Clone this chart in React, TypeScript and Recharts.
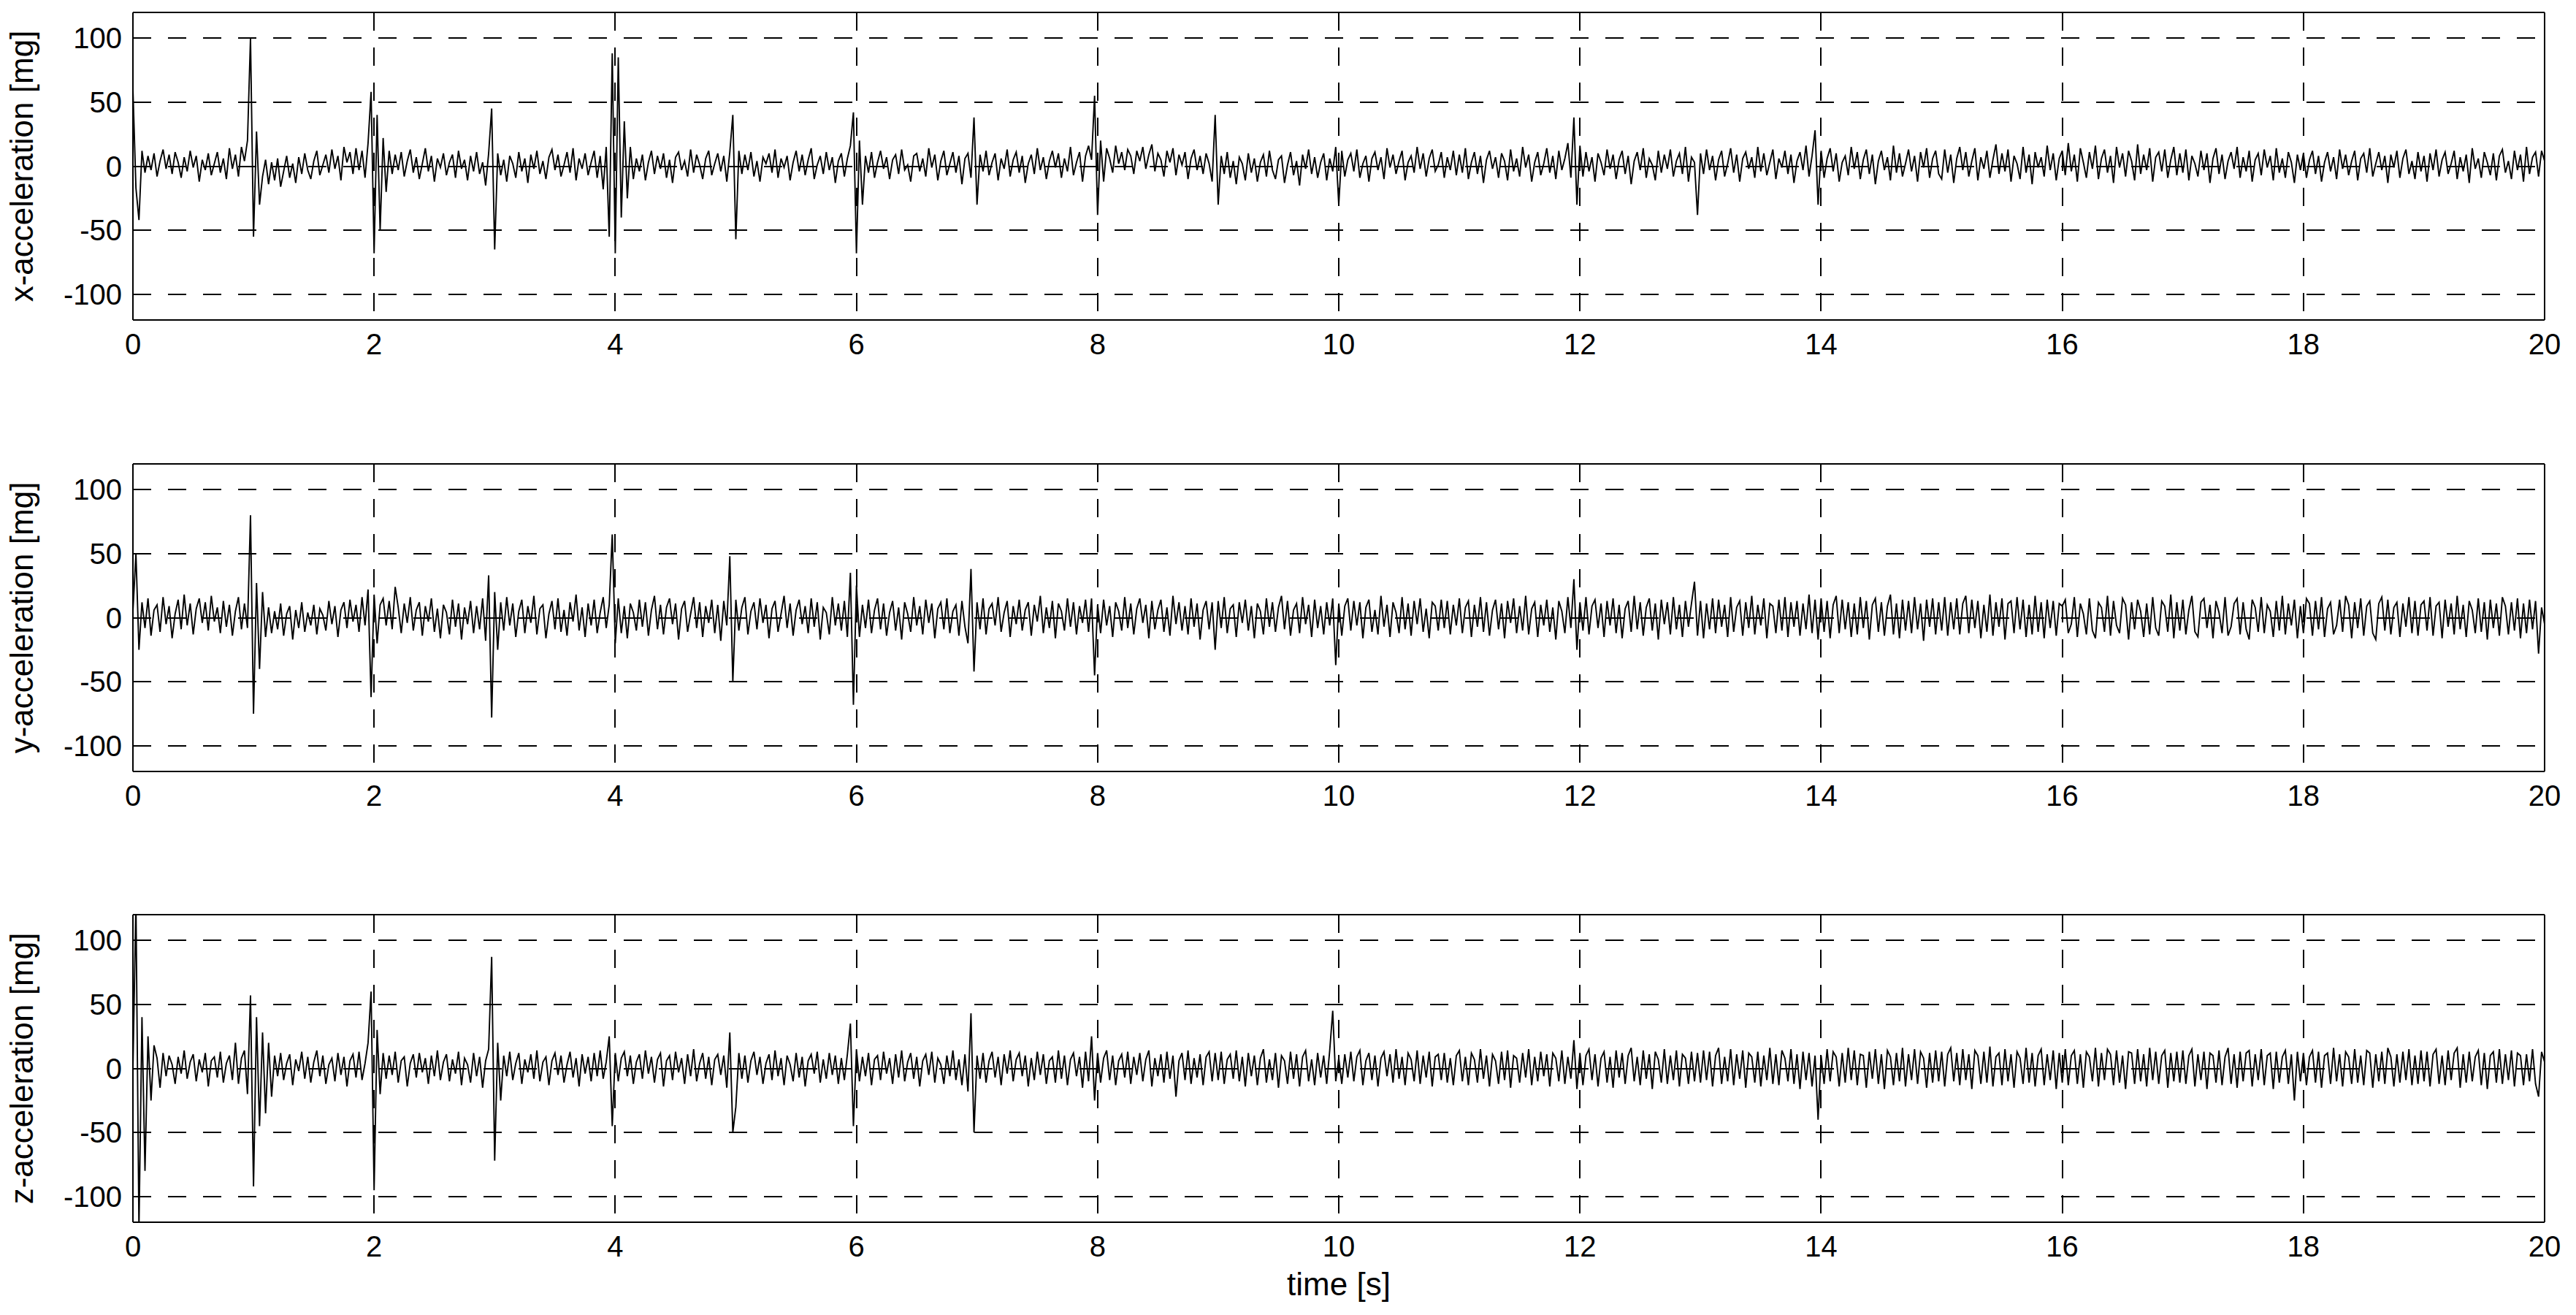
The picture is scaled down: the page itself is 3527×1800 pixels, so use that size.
import { LineChart, Line, XAxis, YAxis, CartesianGrid, ReferenceLine } from 'recharts'

const fontFamily = '"Liberation Sans", Arial, Helvetica, sans-serif'

const duration = 20
const xTicks = [0, 2, 4, 6, 8, 10, 12, 14, 16, 18, 20]
const yTicks = [-100, -50, 0, 50, 100]

// 40 samples per second, one line per second
const xAccel = [
  60, -17, -42, 12, -5, 8, -3, 10, -8, 4, 13, -2, 9, -6, 11, 3, -9, 7, -4, 12, -1, 8, -12, 5, -3, 10, -7, 2, 11, -5, 6, -10, 14, -2, 9, -8, 15, 4, 20, 100,
  -55, 27, -30, -8, 5, -14, 3, -11, 6, -16, -4, 8, -9, 2, -13, 7, -6, 10, -3, -10, 4, 12, -7, 1, 9, -5, 13, -2, 8, -11, 15, 3, 11, -6, 14, -3, 12, -9, 18, 58,
  -68, 40, -50, 22, -20, 12, -6, 9, -3, 11, -8, 4, 13, -5, 7, -10, 2, 14, -4, 8, -12, 6, -1, 10, -7, 3, 9, -9, 12, -2, 5, -11, 8, -4, 11, -6, 3, -15, 10, 45,
  -65, 10, -7, 5, -12, 8, 2, -9, 11, -4, 6, -13, 9, -2, 12, -6, 4, -10, 7, 13, -3, 9, -8, 1, 11, -5, 14, -11, 6, -2, 10, -7, 3, 12, -9, 8, -18, 15, -55, 88,
  -68, 85, -40, 35, -25, 15, -10, 6, -4, 9, -11, 3, 12, -6, 8, -2, 10, -9, 5, -13, 7, 11, -3, 4, -8, 13, -5, 9, 1, -10, 6, 12, -7, 2, 10, -4, 8, -12, 11, 40,
  -57, 12, -6, 9, -3, 11, -8, 4, -12, 7, 2, 10, -5, 13, -9, 6, -1, 8, -11, 3, 12, -4, 9, -7, 5, 14, -10, 1, 8, -6, 11, -3, 7, -13, 4, 10, -8, 6, 16, 42,
  -68, 20, -30, 8, -5, 11, -9, 3, 12, -2, 7, -10, 5, 9, -6, 13, -3, 1, -12, 8, 10, -4, 6, -8, 14, -1, 9, -11, 4, 12, -7, 2, 11, -5, 8, -14, 6, 10, -9, 38,
  -30, 9, -4, 12, -7, 3, 10, -11, 6, -2, 13, -8, 5, 11, -5, 8, -13, 2, 9, -6, 14, -3, 7, -10, 4, 12, -1, 10, -9, 6, -4, 15, -7, 3, 11, -12, 8, 16, 5, 55,
  -38, 20, -12, 14, 6, -5, 16, 2, 11, -3, 13, 8, -6, 12, 4, 15, -2, 9, 17, -4, 10, 5, -8, 12, 3, 14, -7, 9, 1, 11, -10, 6, 13, -3, 8, -6, 10, 2, -12, 40,
  -30, 8, -6, 11, -9, 4, -14, 7, 2, -11, 10, -5, 6, -12, 3, 9, -8, 12, -3, -10, 5, 8, -13, 1, 11, -7, 4, -15, 9, -2, 13, -6, 7, -9, 3, 10, -11, 6, -4, 15,
  -30, 12, -8, 5, 10, -4, 13, -9, 2, 8, -12, 6, 11, -3, 7, -10, 14, -1, 9, -6, 4, 12, -11, 3, 8, -5, 15, -2, 10, -8, 6, 13, -4, 1, 11, -9, 7, -3, 12, -7,
  9, -5, 14, -10, 3, 11, -6, 8, -13, 5, 12, -2, 7, -9, 10, 4, -11, 13, -4, 6, -8, 15, -1, 9, -12, 3, 11, -7, 2, 14, -5, 8, -10, 12, -3, 6, 18, -9, 38, -30,
  16, -8, 11, -4, 7, -12, 10, 3, -7, 13, -2, 9, -10, 5, 12, -6, 8, -14, 4, 11, -3, 14, -9, 6, 1, -11, 12, -5, 9, -2, 13, -8, 4, 10, -6, 15, -12, 7, 3, -38,
  10, -6, 13, -3, 8, -11, 5, 12, -8, 2, 14, -5, 9, -12, 6, 11, -2, 7, -9, 15, -4, 10, -7, 3, 13, -10, 6, -1, 12, -6, 9, -13, 4, 11, -3, 16, -8, 8, 28, -30,
  12, -9, 6, 14, -4, 10, -12, 3, 8, -7, 15, -2, 11, -10, 5, 13, -6, 9, -14, 4, 12, -3, 7, -11, 16, -5, 10, -8, 2, 13, -4, 8, -12, 11, -1, 14, -9, 6, 12, -6,
  -10, 13, -5, 9, -13, 6, 15, -3, 11, -8, 4, 14, -11, 7, -2, 12, -9, 5, 17, -6, 10, -4, 13, -12, 8, 2, -10, 15, -5, 9, -14, 11, -1, 7, -8, 16, -3, 10, -11, 6,
  12, -7, 18, -4, 9, -12, 14, 3, -9, 11, -2, 16, -10, 6, 13, -5, 8, -13, 15, -1, 10, -8, 12, 4, -11, 17, -6, 9, -3, 14, -12, 7, 11, -4, 13, -9, 5, 15, -7, 10,
  -5, 13, -11, 8, 2, -8, 12, -3, 10, -13, 6, 14, -6, 9, -10, 4, 11, -2, 15, -9, 7, -4, 12, -12, 5, 10, -7, 13, -1, 8, -11, 14, -5, 6, -9, 11, 3, -13, 9, -3,
  10, -9, 5, 12, -6, 8, -12, 3, 11, -4, 7, -10, 13, -2, 9, -7, 4, 12, -11, 6, 10, -5, 14, -8, 2, 11, -3, 8, -13, 9, -1, 12, -9, 6, 13, -6, 4, -10, 11, -4,
  8, -12, 10, -3, 13, -8, 5, 11, -6, 2, 12, -10, 7, -4, 9, -13, 14, -2, 6, -9, 11, 3, -7, 10, -11, 8, 13, -5, 4, -10, 12, -3, 9, -12, 15, -6, 7, 11, -8, 12,
  4,
]

const yAccel = [
  5, 50, -25, 12, -8, 15, -14, 6, 10, -11, 16, -5, 9, -16, 3, 14, -9, 18, -6, 11, -13, 7, 15, -4, 12, -10, 17, -3, 8, -12, 13, -7, 10, -14, 5, 16, -9, 11, -8, 80,
  -75, 27, -40, 20, -15, 8, -12, 5, -9, 11, -14, 3, 9, -17, 6, -8, 12, -11, 4, -6, 10, -13, 7, 2, -10, 13, -5, 9, -15, 6, 12, -8, 14, -3, 10, -11, 16, -6, 22, -62,
  18, -20, 10, 15, -6, 13, -9, 24, 8, -12, 11, -4, 16, -10, 6, 12, -14, 9, -3, 15, -11, 7, -16, 10, 4, -13, 14, -7, 11, -17, 8, -5, 13, -12, 9, -9, 15, -18, 33, -78,
  20, -25, 12, -10, 16, -6, 11, -15, 5, 14, -12, 9, -4, 17, -13, 7, 10, -16, 3, 13, -9, 15, -11, 6, -14, 12, -3, 18, -10, 8, -15, 11, -6, 14, -12, 4, 16, -8, 10, 65,
  -20, 15, -12, 9, -16, 11, 4, -10, 14, -7, 12, -14, 6, 17, -9, 10, -13, 8, 15, -5, 11, -17, 7, 13, -11, 3, 16, -8, 12, -15, 9, -4, 14, -12, 10, -18, 13, -6, 48, -50,
  14, -10, 8, 16, -13, 5, 12, -9, 15, -4, 10, -16, 7, 13, -11, 3, 17, -8, 11, -14, 6, 14, -5, 9, -12, 15, -7, 12, -17, 8, 4, -13, 16, -6, 11, -10, 13, -15, 35, -68,
  25, -15, 10, -8, 14, -12, 6, 15, -9, 11, -14, 4, 13, -10, 8, -17, 12, 3, -11, 16, -6, 9, -13, 14, -4, 11, -16, 7, 12, -9, 15, -12, 5, 10, -14, 13, -7, -20, 38, -42,
  12, -9, 15, -13, 7, 11, -6, 16, -11, 4, 13, -15, 9, -5, 14, -10, 6, 12, -14, 10, -3, 17, -12, 8, -8, 13, -16, 11, 5, -10, 15, -7, 12, -13, 9, -4, 14, -11, 15, -45,
  10, -12, 14, -6, 9, -15, 12, 5, -10, 16, -8, 11, -13, 7, 15, -4, 10, -16, 13, -9, 6, 14, -11, 8, -14, 17, -5, 12, -10, 9, -13, 15, -7, 11, -17, 6, 13, -9, 12, -25,
  13, -8, 16, -12, 7, 10, -15, 12, -4, 14, -10, 9, -16, 11, 5, -13, 15, -7, 12, -11, 8, 17, -9, 13, -14, 6, 11, -12, 16, -5, 10, -15, 14, -8, 9, -13, 12, -6, 15, -37,
  11, -14, 9, 15, -10, 13, -6, 12, -16, 8, 14, -11, 6, -13, 17, -7, 10, -15, 12, 4, -12, 16, -9, 11, -14, 13, -5, 15, -11, 7, -16, 12, 9, -10, 14, -8, 13, -13, 10, -6,
  15, -12, 8, 13, -15, 10, -7, 16, -11, 12, -14, 6, 14, -9, 11, -16, 13, -4, 15, -12, 9, -10, 17, -13, 7, 12, -15, 10, -6, 14, -11, 8, -17, 13, 5, -12, 16, -8, 30, -25,
  12, -10, 16, -13, 9, 14, -8, 11, -15, 13, -6, 15, -12, 10, -16, 7, 13, -11, 17, -9, 12, -14, 8, 15, -10, 11, -17, 14, -5, 12, -13, 16, -9, 10, -15, 13, -7, 11, 28, -14,
  13, -16, 11, -9, 15, -12, 14, -7, 10, -15, 16, -11, 8, 13, -14, 12, -8, 17, -13, 10, -6, 15, -16, 11, 9, -12, 14, -10, 16, -15, 12, -7, 13, -14, 11, -9, 18, -12, 14, -17,
  15, -11, 13, -16, 10, 17, -12, 14, -9, 12, -15, 11, -13, 16, -8, 13, -17, 10, 15, -11, 12, -14, 9, 18, -13, 11, -16, 14, -10, 13, -12, 16, -9, 11, -18, 14, -7, 15, -13, 12,
  -10, 16, -14, 12, -9, 15, -13, 11, 17, -12, 14, -8, 13, -16, 10, -11, 18, -14, 12, -7, 15, -17, 11, 13, -12, 16, -9, 14, -15, 10, -13, 17, -11, 12, -16, 14, -8, 13, -14, 11,
  9, 14, -12, -5, 16, -15, 11, 3, -13, 15, -10, -16, 12, 8, -11, 17, -14, 13, -6, -12, 15, 10, -17, 12, -9, 14, 5, -15, 11, -13, 16, -8, -14, 13, 9, -11, 18, -16, 12, -10,
  14, -13, 6, 17, -11, -15, 12, 15, -8, 10, -16, 13, 4, -12, 16, -14, -7, 11, 15, -13, 12, -9, -17, 14, 8, -11, 16, -12, 10, 5, -15, 13, -10, 17, -13, 11, -6, 14, -16, 9,
  -12, 15, 11, -14, 13, -9, 16, -15, 7, 12, -13, -6, 14, -11, 17, 10, -16, 12, -8, 15, -14, 9, 13, -12, -17, 11, 16, -10, 14, -13, 8, 12, -15, 11, -7, 16, -12, 13, -14, 10,
  13, -10, 16, -14, 9, 12, -16, 14, -7, 11, -13, 17, -9, 10, -15, 13, 6, -12, 15, -11, 12, -17, 14, -8, 11, -14, 16, 9, -13, 12, -10, 15, -16, 11, -12, 14, -9, 13, -28, 8,
  -5,
]

const zAccel = [
  0, 130, -125, 40, -80, 25, -25, 18, 8, -15, 12, -6, 10, 3, -12, 9, -4, 14, -8, 5, 11, -10, 7, -3, 12, -14, 6, 9, -7, 13, -11, 4, 10, -9, 20, -12, 8, 14, -20, 57,
  -92, 40, -45, 28, -35, 20, -22, 10, -6, 12, -9, 4, 11, -13, 7, -2, 13, -8, 9, -11, 5, 14, -6, 10, -12, 3, 8, -10, 12, -5, 9, -14, 6, 11, -7, 13, -9, 4, 20, 60,
  -95, 30, -20, 12, -8, 10, -5, 13, -11, 6, 9, -14, 4, 11, -7, 12, -3, 8, -12, 10, -6, 14, -9, 5, 11, -10, 7, -4, 13, -13, 8, 3, -11, 12, -6, 9, -15, 6, 15, 87,
  -72, 20, -25, 10, -6, 13, -9, 4, 12, -12, 7, -3, 11, -8, 14, -10, 5, 9, -13, 6, 12, -5, 10, -11, 3, 13, -7, 8, -14, 11, -4, 9, -10, 12, -6, 14, -8, 5, 25, -45,
  12, -10, 8, 13, -6, 10, -12, 5, 11, -8, 14, -4, 9, -11, 7, 12, -14, 6, 10, -9, 13, -3, 8, -12, 11, -6, 15, -10, 4, 12, -8, 9, -13, 7, 11, -5, 10, -15, 28, -50,
  -30, 12, -8, 10, -11, 6, 13, -5, 9, -12, 4, 11, -9, 14, -6, 8, -13, 10, 3, -10, 12, -7, 9, -14, 6, 11, -4, 13, -11, 7, -8, 12, -5, 10, -12, 8, -9, 11, 35, -45,
  15, -10, 9, -6, 12, -13, 7, 10, -9, 13, -4, 8, -12, 11, -7, 14, -10, 5, 12, -8, 9, -14, 6, 11, -5, 13, -11, 8, 3, -12, 10, -6, 14, -9, 7, -13, 11, -18, 43, -50,
  10, -8, 12, -11, 6, 13, -7, 9, -13, 11, -4, 14, -10, 7, 12, -6, 10, -14, 8, -9, 13, -5, 11, -12, 6, 9, -11, 14, -8, 10, -13, 7, 12, -6, 9, -15, 13, -10, 25, -25,
  12, -11, 8, 14, -9, 10, -13, 6, 11, -7, 13, -12, 9, -5, 12, -10, 7, 14, -14, 8, -6, 11, -11, 13, -8, 10, -22, 6, 12, -9, 14, -12, 8, -7, 11, -13, 9, 13, -10, 12,
  -9, 13, -12, 7, 11, -8, 14, -10, 9, -14, 12, -6, 10, -13, 8, 15, -11, 7, -9, 12, -15, 10, 6, -12, 13, -8, 11, -14, 9, 14, -10, 7, -13, 12, -7, 10, -12, 14, 45, -10,
  8, -12, 11, -7, 13, -10, 9, 14, -13, 6, 12, -9, 10, -14, 8, 13, -6, 11, -11, 15, -8, 9, -13, 12, 7, -10, 14, -12, 10, -7, 13, -14, 9, 11, -9, 12, -11, 8, -13, 10,
  14, -10, 9, -13, 12, 7, -11, 15, -8, 10, -14, 11, 6, -12, 13, -9, 14, -15, 10, 8, -11, 12, -7, 15, -13, 9, -10, 13, -6, 11, -14, 12, 8, -10, 14, -12, 9, -8, 22, -16,
  12, -13, 10, 15, -9, 11, -14, 8, 13, -11, 9, -15, 14, -7, 12, -12, 10, 16, -10, 9, -13, 14, -8, 11, -16, 13, 7, -11, 15, -12, 10, -9, 14, -14, 11, 8, -12, 13, -10, 12,
  -11, 14, -9, 13, -14, 10, 16, -12, 9, -10, 15, -13, 11, -8, 14, -15, 12, 9, -11, 13, -14, 10, -9, 16, -12, 11, -13, 14, 8, -10, 15, -12, 11, -16, 13, -9, 12, -14, 10, -40,
  10, -12, 15, -10, 13, 9, -14, 12, -11, 16, -9, 14, -13, 11, 10, -15, 13, -8, 15, -12, 11, -16, 14, 9, -13, 12, -10, 16, -14, 11, -9, 15, -12, 13, 8, -15, 12, -11, 14, -10,
  13, -14, 11, 16, -10, 12, -13, 15, -9, 11, -16, 14, 10, -12, 13, -11, 17, -14, 9, 12, -13, 15, -10, 11, -15, 13, 8, -12, 16, -11, 12, -14, 10, 15, -13, 11, -9, 14, -16, 12,
  -11, 15, -13, 10, 14, -12, 11, -15, 13, 9, -10, 16, -14, 12, -9, 15, 11, -13, 14, -11, 10, -16, 13, 12, -12, 15, -10, 11, -14, 16, -9, 13, -12, 10, 14, -15, 12, -10, 13, -11,
  14, -12, 10, 15, -14, 11, -9, 13, -16, 12, 10, -11, 14, -13, 9, 16, -12, 11, -15, 13, -10, 12, 14, -14, 11, -9, 15, -13, 10, 12, -16, 13, -11, 9, 14, -12, 11, -25, 13, -10,
  12, -13, 9, 14, -11, 13, -15, 10, 12, -12, 16, -10, 11, -14, 13, 9, -12, 15, -11, 10, -13, 14, 12, -15, 11, -10, 13, -12, 16, 9, -14, 11, -11, 13, -9, 15, -13, 10, -12, 14,
  -10, 13, -14, 11, 15, -12, 10, -13, 14, -9, 12, 16, -15, 11, -11, 13, -10, 9, 14, -13, 12, -16, 10, 13, -11, 15, -12, 11, -9, 14, -14, 12, 10, -13, 11, -10, 15, -12, -22, 13,
  5,
]

const panels = [
  { label: 'x-acceleration [mg]', values: xAccel, top: 17 },
  { label: 'y-acceleration [mg]', values: yAccel, top: 635 },
  { label: 'z-acceleration [mg]', values: zAccel, top: 1252 },
]

const toRows = (values: number[]) =>
  values.map((v, i) => ({ t: (i * duration) / (values.length - 1), v }))

const tickStyle = { fill: '#000', fontSize: 40, fontFamily }

const yTitle = (text: string) => (props: any) => {
  const vb = props.viewBox
  const cy = vb.y + vb.height / 2
  return (
    <text
      x={45}
      y={cy}
      transform={`rotate(-90, 45, ${cy})`}
      textAnchor="middle"
      fontSize={44}
      fontFamily={fontFamily}
      fill="#000"
    >
      {text}
    </text>
  )
}

const timeTitle = (props: any) => {
  const vb = props.viewBox
  return (
    <text
      x={vb.x + vb.width / 2}
      y={vb.y + 100}
      textAnchor="middle"
      fontSize={44}
      fontFamily={fontFamily}
      fill="#000"
    >
      time [s]
    </text>
  )
}

const Panel = ({ label, values, top, last }: { label: string; values: number[]; top: number; last: boolean }) => (
  <div style={{ position: 'absolute', left: 0, top: top - 17 }}>
    <LineChart
      width={3527}
      height={600}
      data={toRows(values)}
      margin={{ top: 17, right: 43, bottom: 102, left: 0 }}
    >
      <CartesianGrid stroke="#000" strokeWidth={2} strokeDasharray="25 23" shapeRendering="crispEdges" />
      <XAxis
        dataKey="t"
        type="number"
        domain={[0, duration]}
        ticks={xTicks}
        interval={0}
        height={60}
        tickLine={false}
        tickSize={0}
        tickMargin={19}
        axisLine={{ stroke: '#000', strokeWidth: 2 }}
        tick={tickStyle}
        label={last ? timeTitle : undefined}
      />
      <YAxis
        type="number"
        domain={[-120, 120]}
        ticks={yTicks}
        interval={0}
        allowDataOverflow
        width={182}
        tickLine={false}
        tickSize={0}
        tickMargin={15}
        axisLine={{ stroke: '#000', strokeWidth: 2 }}
        tick={tickStyle}
        label={yTitle(label)}
      />
      <ReferenceLine y={120} stroke="#000" strokeWidth={2} />
      <ReferenceLine x={duration} stroke="#000" strokeWidth={2} />
      <Line
        type="linear"
        dataKey="v"
        stroke="#000"
        strokeWidth={1.9}
        dot={false}
        activeDot={false}
        isAnimationActive={false}
      />
    </LineChart>
  </div>
)

export default function App() {
  return (
    <div
      style={{
        position: 'absolute',
        left: 0,
        top: 0,
        width: 3527,
        height: 1800,
        background: '#fff',
        overflow: 'hidden',
      }}
    >
      {panels.map((p, i) => (
        <Panel key={p.label} label={p.label} values={p.values} top={p.top} last={i === panels.length - 1} />
      ))}
    </div>
  )
}
